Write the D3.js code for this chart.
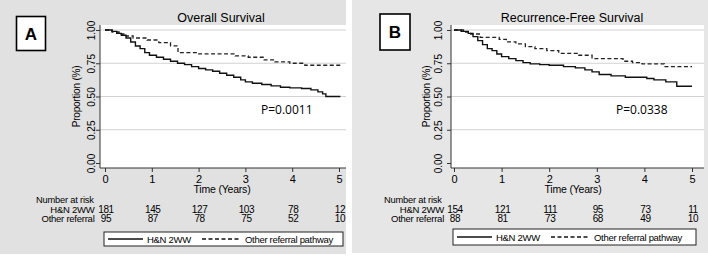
<!DOCTYPE html>
<html>
<head>
<meta charset="utf-8">
<script src="https://cdn.jsdelivr.net/npm/d3@7"></script>
<style>
  body { margin: 0; background: #fff; }
  svg text { font-family: "Liberation Sans", Arial, sans-serif; fill: #000; }
</style>
</head>
<body>
<div id="chart"></div>
<script>
// Kaplan-Meier step data (time in years, proportion)
var osHnTime  = [0, 0.15, 0.25, 0.35, 0.45, 0.55, 0.65, 0.75, 0.85, 0.95, 1.1, 1.25, 1.4, 1.55, 1.7, 1.85, 2.0, 2.15, 2.3, 2.45, 2.6, 2.75, 2.9, 3.0, 3.15, 3.35, 3.55, 3.75, 3.95, 4.2, 4.4, 4.55, 4.65, 4.72, 5.03];
var osHnSurv  = [1.0, 0.99, 0.975, 0.96, 0.94, 0.91, 0.88, 0.86, 0.83, 0.81, 0.795, 0.78, 0.765, 0.75, 0.74, 0.725, 0.71, 0.70, 0.69, 0.675, 0.66, 0.645, 0.625, 0.61, 0.60, 0.59, 0.58, 0.57, 0.565, 0.56, 0.55, 0.535, 0.52, 0.50, 0.50];
var osOthTime = [0, 0.15, 0.3, 0.45, 0.6, 0.9, 1.15, 1.4, 1.56, 2.0, 2.78, 3.06, 3.4, 3.63, 3.95, 4.27, 5.03];
var osOthSurv = [1.0, 0.985, 0.97, 0.955, 0.94, 0.925, 0.905, 0.88, 0.83, 0.82, 0.805, 0.795, 0.775, 0.76, 0.75, 0.735, 0.735];

var rfsHnTime  = [0, 0.15, 0.3, 0.4, 0.5, 0.6, 0.7, 0.8, 0.9, 1.0, 1.15, 1.3, 1.45, 1.6, 1.8, 2.0, 2.3, 2.55, 2.75, 2.9, 3.05, 3.3, 3.6, 4.05, 4.2, 4.45, 4.68, 5.0];
var rfsHnSurv  = [1.0, 0.99, 0.975, 0.95, 0.92, 0.89, 0.86, 0.845, 0.82, 0.80, 0.785, 0.77, 0.755, 0.745, 0.74, 0.735, 0.725, 0.715, 0.70, 0.685, 0.665, 0.655, 0.645, 0.635, 0.625, 0.61, 0.577, 0.577];
var rfsOthTime = [0, 0.2, 0.35, 0.55, 0.95, 1.1, 1.3, 1.5, 1.7, 1.95, 2.2, 2.6, 2.9, 3.55, 3.75, 3.95, 4.42, 5.0];
var rfsOthSurv = [1.0, 0.985, 0.97, 0.945, 0.93, 0.91, 0.895, 0.875, 0.86, 0.845, 0.825, 0.81, 0.785, 0.765, 0.755, 0.745, 0.725, 0.725];

var riskTimes = [0, 1, 2, 3, 4, 5];
var osRiskHn   = [181, 145, 127, 103, 78, 12];
var osRiskOth  = [95, 87, 78, 75, 52, 10];
var rfsRiskHn  = [154, 121, 111, 95, 73, 11];
var rfsRiskOth = [88, 81, 73, 68, 49, 10];

var yTicks = [0, 0.25, 0.5, 0.75, 1];
var yTickLabels = ["0.00", "0.25", "0.50", "0.75", "1.00"];
var groupNames = ["H&N 2WW", "Other referral"];
var legendNames = ["H&N 2WW", "Other referral pathway"];

var width = 708, height = 257;

var svg = d3.select("#chart").append("svg")
    .attr("width", width)
    .attr("height", height);

var panels = [
  { letter: "A", title: "Overall Survival", p: "P=0.0011",
    bg: [0, 346, 254], bgColor: "#e1e1e1", box: [16.5, 16.5, 29, 34],
    plot: [100, 346, 25, 168], x0: 105, x1: 339,
    tickLab: 95, propLab: 80, riskLab: 94.5, nar: 36, pX: 261,
    legend: [104, 343, 232, 246],
    hn: [osHnTime, osHnSurv], oth: [osOthTime, osOthSurv], risk: [osRiskHn, osRiskOth] },
  { letter: "B", title: "Recurrence-Free Survival", p: "P=0.0338",
    bg: [352, 708, 253], bgColor: "#e6e6e6", box: [380, 14, 30, 36],
    plot: [451, 704, 25, 168], x0: 454, x1: 692,
    tickLab: 442, propLab: 430, riskLab: 444, nar: 384, pX: 616,
    legend: [453, 696, 229, 245],
    hn: [rfsHnTime, rfsHnSurv], oth: [rfsOthTime, rfsOthSurv], risk: [rfsRiskHn, rfsRiskOth] }
];

panels.forEach(drawPanel);

function drawPanel(c) {
  var g = svg.append("g");

  g.append("rect")
    .attr("x", c.bg[0]).attr("y", 0)
    .attr("width", c.bg[1] - c.bg[0]).attr("height", c.bg[2])
    .attr("fill", c.bgColor);

  // plot region
  g.append("rect")
    .attr("x", c.plot[0]).attr("y", c.plot[2])
    .attr("width", c.plot[1] - c.plot[0]).attr("height", c.plot[3] - c.plot[2])
    .attr("fill", "#fff");

  var x = d3.scaleLinear().domain([0, 5]).range([c.x0, c.x1]);
  var y = d3.scaleLinear().domain([0, 1]).range([163, 30]);

  // gridlines
  g.selectAll(".grid")
    .data(yTicks.filter(function(d) { return d > 0; }))
    .enter().append("line")
    .attr("x1", c.plot[0]).attr("x2", c.plot[1])
    .attr("y1", function(d) { return y(d); })
    .attr("y2", function(d) { return y(d); })
    .attr("stroke", "#d2d2d2").attr("stroke-width", 1);

  // y axis
  var yAxis = g.append("g")
    .attr("transform", "translate(" + c.plot[0] + ",0)")
    .call(d3.axisLeft(y).tickValues(yTicks).tickSize(4).tickFormat(function(d, i) { return yTickLabels[i]; }));
  yAxis.select(".domain").attr("d", "M0," + c.plot[2] + "V" + c.plot[3]).attr("stroke", "#333");
  yAxis.selectAll(".tick line").attr("stroke", "#333");
  yAxis.selectAll(".tick text")
    .attr("x", 0).attr("y", 0).attr("dy", 0)
    .attr("text-anchor", "middle")
    .attr("transform", "translate(" + (c.tickLab - c.plot[0]) + ",0) rotate(-90)")
    .style("font-size", "10px");

  // x axis
  var xAxis = g.append("g")
    .attr("transform", "translate(0," + c.plot[3] + ")")
    .call(d3.axisBottom(x).tickValues(riskTimes).tickSize(4).tickFormat(d3.format("d")));
  xAxis.select(".domain").attr("d", "M" + c.plot[0] + ",0H" + c.plot[1]).attr("stroke", "#333");
  xAxis.selectAll(".tick line").attr("stroke", "#333");
  xAxis.selectAll(".tick text").attr("y", 7).attr("dy", "0.71em").style("font-size", "11px");

  g.append("text")
    .attr("x", (c.x0 + c.x1) / 2).attr("y", 193)
    .attr("text-anchor", "middle").style("font-size", "10.5px").style("letter-spacing", "-0.2px")
    .text("Time (Years)");

  g.append("text")
    .attr("transform", "translate(" + c.propLab + "," + (y(0.5)) + ") rotate(-90)")
    .attr("text-anchor", "middle").style("font-size", "10px").style("letter-spacing", "-0.2px")
    .text("Proportion (%)");

  g.append("text")
    .attr("x", (c.x0 + c.x1) / 2 - 1).attr("y", 22)
    .attr("text-anchor", "middle").style("font-size", "12.5px")
    .text(c.title);

  // panel letter box
  g.append("rect")
    .attr("x", c.box[0]).attr("y", c.box[1])
    .attr("width", c.box[2]).attr("height", c.box[3])
    .attr("fill", "#fff").attr("stroke", "#000").attr("stroke-width", 1.6);
  g.append("text")
    .attr("x", c.box[0] + c.box[2] / 2).attr("y", c.box[1] + c.box[3] / 2 + 6)
    .attr("text-anchor", "middle").style("font-size", "17px").style("font-weight", "bold")
    .text(c.letter);

  // KM curves
  var line = d3.line()
    .x(function(d) { return x(d[0]); })
    .y(function(d) { return y(d[1]); })
    .curve(d3.curveStepAfter);

  g.append("path")
    .datum(d3.zip(c.oth[0], c.oth[1]))
    .attr("d", line).attr("fill", "none")
    .attr("stroke", "#222").attr("stroke-width", 1.3).attr("stroke-dasharray", "4,2.5");
  g.append("path")
    .datum(d3.zip(c.hn[0], c.hn[1]))
    .attr("d", line).attr("fill", "none")
    .attr("stroke", "#111").attr("stroke-width", 1.4);

  g.append("text")
    .attr("x", c.pX).attr("y", 113.5)
    .style("font-family", "'Open Sans', sans-serif").style("font-size", "12px")
    .text(c.p);

  // number at risk table
  g.append("text")
    .attr("x", c.nar).attr("y", 203)
    .style("font-size", "9.3px").style("letter-spacing", "-0.2px")
    .text("Number at risk");

  c.risk.forEach(function(row, r) {
    var ry = 212.5 + r * 9.5;
    g.append("text")
      .attr("x", c.riskLab).attr("y", ry)
      .attr("text-anchor", "end")
      .style("font-size", "9.5px").style("letter-spacing", "-0.25px")
      .text(groupNames[r]);
    g.selectAll(null)
      .data(row)
      .enter().append("text")
      .attr("x", function(d, i) { return x(riskTimes[i]) + 1; })
      .attr("y", ry)
      .attr("text-anchor", "middle")
      .style("font-size", "10px").style("letter-spacing", "-0.4px")
      .text(function(d) { return d; });
  });

  // legend
  var L = c.legend;
  g.append("rect")
    .attr("x", L[0]).attr("y", L[2])
    .attr("width", L[1] - L[0]).attr("height", L[3] - L[2])
    .attr("fill", "#fff").attr("stroke", "#222").attr("stroke-width", 1);
  var ly = (L[2] + L[3]) / 2;
  g.append("line")
    .attr("x1", L[0] + 4).attr("x2", L[0] + 39)
    .attr("y1", ly).attr("y2", ly)
    .attr("stroke", "#111").attr("stroke-width", 1.3);
  g.append("text")
    .attr("x", L[0] + 43).attr("y", ly + 3.5)
    .style("font-size", "9.5px").style("letter-spacing", "-0.3px")
    .text(legendNames[0]);
  g.append("line")
    .attr("x1", L[0] + 98).attr("x2", L[0] + 137)
    .attr("y1", ly).attr("y2", ly)
    .attr("stroke", "#111").attr("stroke-width", 1.3).attr("stroke-dasharray", "4,2.5");
  g.append("text")
    .attr("x", L[0] + 141).attr("y", ly + 3.5)
    .style("font-size", "9.5px").style("letter-spacing", "-0.3px")
    .text(legendNames[1]);
}
</script>
</body>
</html>
